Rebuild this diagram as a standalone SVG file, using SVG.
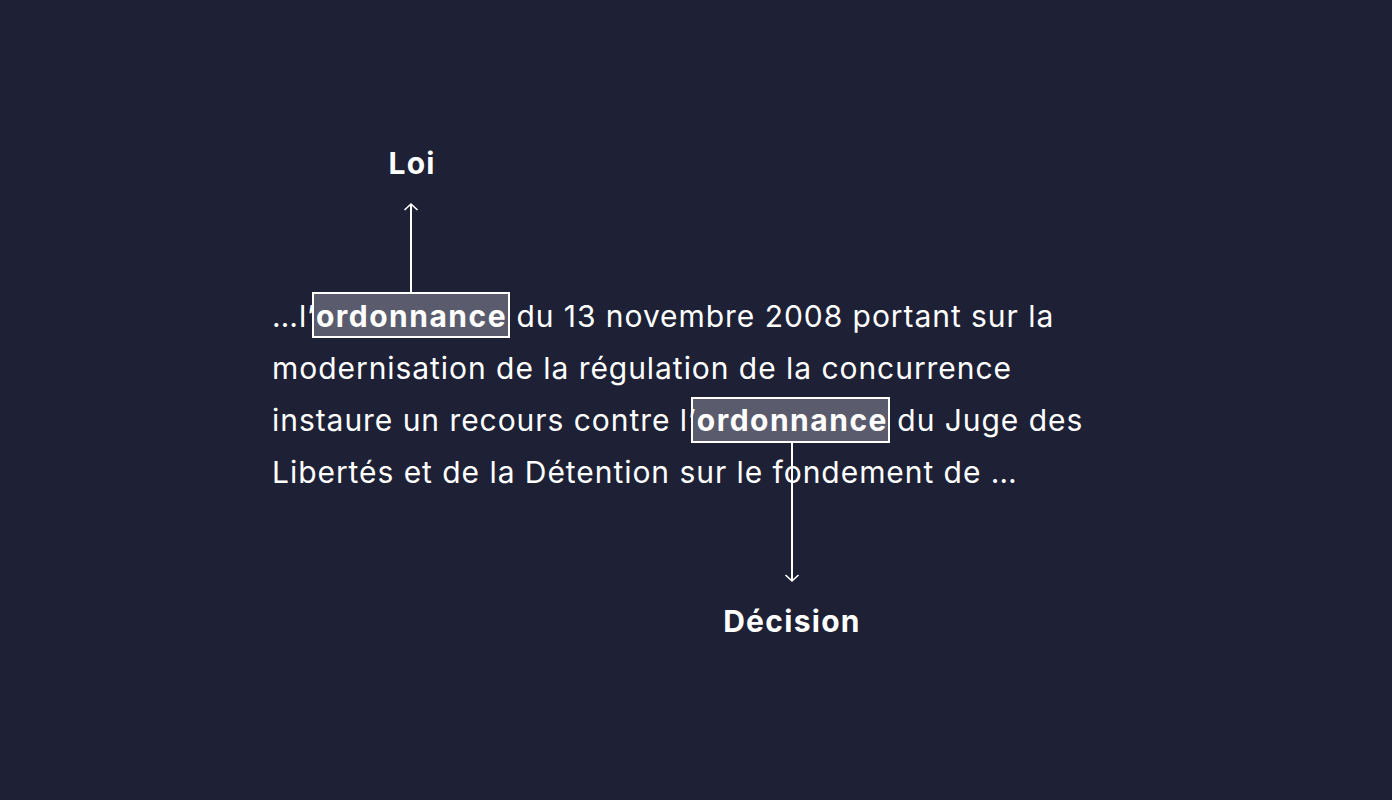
<svg xmlns="http://www.w3.org/2000/svg" width="1392" height="800" viewBox="0 0 1392 800">
<defs>
<marker id="ah" markerWidth="16" markerHeight="16" refX="8" refY="8" orient="auto" markerUnits="userSpaceOnUse">
<path d="M2,1.5 L8,8 L2,14.5" fill="none" stroke="#ffffff" stroke-width="1.6"/>
</marker>
<style>
.t{font-family:Inter,"Noto Sans",sans-serif;font-size:30px;letter-spacing:0.95px;fill:#ffffff;}
.b{font-weight:700;}
.w{letter-spacing:1.5px;}
.hl{fill:#5a5c6e;stroke:#ffffff;stroke-width:2;}
.c{stroke:#ffffff;stroke-width:2;fill:none;}
</style>
</defs>
<rect width="1392" height="800" fill="#1e2136"/>
<g id="hl1"><rect class="hl" x="313" y="293" width="196" height="44"/></g>
<g id="hl2"><rect class="hl" x="692" y="398" width="197" height="44"/></g>
<g id="passage">
<text class="t" x="272" y="327">…l’<tspan class="b w">ordonnance</tspan> du 13 novembre 2008 portant sur la</text>
<text class="t" x="272" y="379">modernisation de la régulation de la concurrence</text>
<text class="t" x="272" y="431">instaure un recours contre l’<tspan class="b w">ordonnance</tspan> du Juge des</text>
<text class="t" x="272" y="483">Libertés et de la Détention sur le fondement de …</text>
</g>
<g id="connectors">
<line class="c" x1="411" y1="292" x2="411" y2="204" marker-end="url(#ah)"/>
<line class="c" x1="792" y1="443" x2="792" y2="581" marker-end="url(#ah)"/>
</g>
<g id="loi"><text class="t b" x="412" y="174" text-anchor="middle" style="letter-spacing:1.1px">Loi</text></g>
<g id="decision"><text class="t b" x="792" y="632" text-anchor="middle" style="letter-spacing:1.3px">Décision</text></g>
</svg>
